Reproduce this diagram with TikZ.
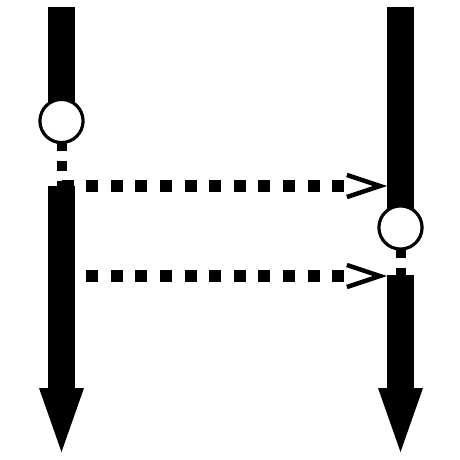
\documentclass[tikz,border=0pt]{standalone}
\usetikzlibrary{arrows.meta,decorations.markings}

\begin{document}
\begin{tikzpicture}[
  x=1pt, y=-1pt,
  thread/.style={line width=27pt, -{Triangle[width=45pt, length=64pt, line width=0pt]}},
  segment/.style={line width=27pt},
  wait/.style={line width=10pt, dash pattern=on 10pt off 10pt},
  event/.style={draw, circle, fill=white, line width=3pt, minimum size=43pt, inner sep=0pt},
  msg/.style={line width=12pt, dash pattern=on 12pt off 12.6pt, shorten >=35pt,
    postaction={decorate, decoration={markings, mark=at position 1 with
      {\arrow[line width=4.5pt]{Straight Barb[length=33pt, width=22pt]}}}}}
]
\useasboundingbox (0,0) rectangle (460,460);
% threads
\coordinate (ltop) at (61.5,7);
\coordinate (rtop) at (400.5,7);
\coordinate (lsend1) at (61.5,186);
\coordinate (lsend2) at (61.5,276);
\coordinate (rwake) at (400.5,275);
\coordinate (lend) at (61.5,452);
\coordinate (rend) at (400.5,452);
\coordinate (rin1) at (387,186);
\coordinate (rin2) at (387,276);
\node[event] (lev) at (61.5,121) {};
\node[event] (rev) at (400.5,227.5) {};

\draw[segment] (ltop) -- (lev.center);
\draw[segment] (rtop) -- (rev.center);
\draw[wait] (lev.center) -- (lsend1);
\draw[wait] (rev.center) -- (rwake);
\node[event] at (lev) {};
\node[event] at (rev) {};
\draw[thread] (lsend1) -- (lend);
\draw[thread] (rwake) -- (rend);
% messages
\draw[msg] (lsend1) -- (rin1);
\draw[msg] (lsend2) -- (rin2);
\end{tikzpicture}
\end{document}
